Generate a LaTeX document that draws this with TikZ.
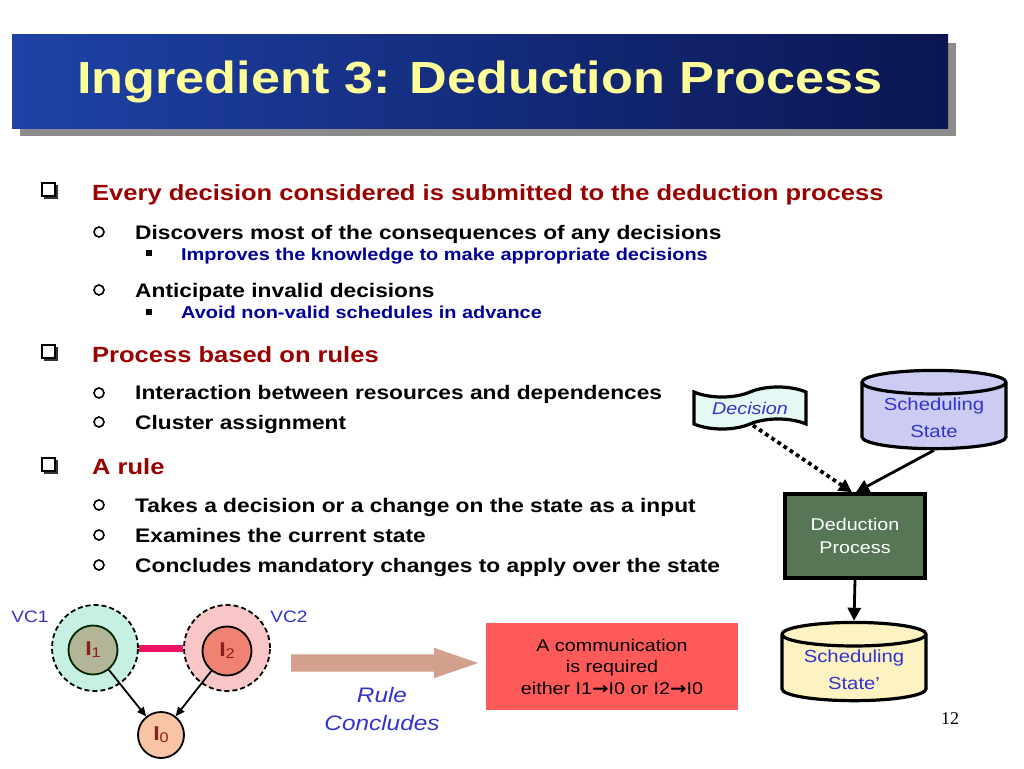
\documentclass[tikz,border=0pt]{standalone}
\usepackage{fontspec}
\setmainfont{Liberation Sans}[FakeStretch=1.16]
\newfontfamily\arrowfont{DejaVu Sans}[FakeStretch=1.16]
\newfontfamily\pagenumfont{Liberation Serif}
\usetikzlibrary{positioning,shapes.geometric,shapes.symbols,shapes.arrows,shadows,arrows.meta}

\definecolor{titleblue}{HTML}{1E42A6}
\definecolor{titlenavy}{HTML}{0A1652}
\definecolor{titleyellow}{HTML}{FFFF99}
\definecolor{headred}{HTML}{990000}
\definecolor{subblue}{HTML}{000099}
\definecolor{labelblue}{HTML}{3333CC}
\definecolor{decisioncyan}{HTML}{E4F8F6}
\definecolor{statelavender}{HTML}{CCCCF2}
\definecolor{stateyellow}{HTML}{FDF2C2}
\definecolor{deductgreen}{HTML}{567656}
\definecolor{vcgreen}{HTML}{C6F0E2}
\definecolor{vcpink}{HTML}{F8C6C6}
\definecolor{taskkhaki}{HTML}{B4B496}
\definecolor{tasksalmon}{HTML}{F08272}
\definecolor{taskpeach}{HTML}{F9C4A6}
\definecolor{taskred}{HTML}{8A1E1E}
\definecolor{linkpink}{HTML}{EE1166}
\definecolor{arrowtan}{HTML}{D2A08C}
\definecolor{notered}{HTML}{FF5A5A}

\newcommand\tasklbl[1]{\textbf{I}\raisebox{-0.2ex}{\fontsize{14}{14}\selectfont #1}}

\tikzset{
  banner/.style={minimum width=936, minimum height=93, inner sep=0,
    left color=titleblue, right color=titlenavy,
    drop shadow={shadow xshift=8pt, shadow yshift=-8pt, fill=black!45, opacity=1},
    text=titleyellow, font=\fontsize{45}{50}\selectfont\bfseries},
  head/.style={anchor=base west, inner sep=0, text=headred,
    font=\fontsize{22}{26}\selectfont\bfseries},
  item/.style={anchor=base west, inner sep=0,
    font=\fontsize{19.6}{24}\selectfont\bfseries},
  subitem/.style={anchor=base west, inner sep=0, text=subblue,
    font=\fontsize{17.2}{20}\selectfont\bfseries},
  tapebox/.style={tape, draw, line width=3.2, fill=decisioncyan,
    minimum width=112, minimum height=42, tape bend height=10,
    text=labelblue, font=\fontsize{17}{20}\selectfont\itshape},
  dbstate/.style={cylinder, shape border rotate=90, aspect=0.22, draw,
    line width=3.2, minimum width=144, inner ysep=2.5, align=center,
    text=labelblue, font=\fontsize{17.5}{27}\selectfont},
  procbox/.style={rectangle, draw, line width=3.6, fill=deductgreen,
    minimum width=140, minimum height=84, align=center,
    text=white, font=\fontsize{17}{23}\selectfont},
  flow/.style={line width=2.8, -{Triangle[length=13, width=13]}},
  cluster/.style={circle, draw, dash pattern=on 5pt off 3pt, line width=1.8,
    minimum size=86, inner sep=0},
  task/.style={circle, draw, line width=1.8, minimum size=49, inner sep=0,
    text=taskred, font=\fontsize{20}{22}\selectfont},
  dep/.style={line width=1.8, -{Triangle[length=9, width=8]}},
  vclabel/.style={text=labelblue, font=\fontsize{16.5}{20}\selectfont},
}

\begin{document}
\begin{tikzpicture}[x=1pt,y=-1pt]
  \useasboundingbox (0,0) rectangle (1024,768);

  % title
  \node[banner] (title) at (480,81.5) {Ingredient 3: Deduction Process};

  % bullet marks
  \foreach \y in {191,353,466} {
    \fill[black!80] (44,\y-6) rectangle +(14,14);
    \draw[fill=white, line width=1.2] (42,\y-8) rectangle +(13,13);
  }
  \foreach \y in {232,290,393,422,505,535,565}
    \draw[line width=1.6] (99,\y) circle [radius=5];
  \foreach \y in {253,312}
    \fill (146,\y-3) rectangle +(6,6);

  % text lines
  \node[head] (h1) at (92,200) {Every decision considered is submitted to the deduction process};
  \node[item] (h1a) at (135,239) {Discovers most of the consequences of any decisions};
  \node[subitem] (h1a1) at (181,260) {Improves the knowledge to make appropriate decisions};
  \node[item] (h1b) at (135,297) {Anticipate invalid decisions};
  \node[subitem] (h1b1) at (181,318) {Avoid non-valid schedules in advance};
  \node[head] (h2) at (92,362) {Process based on rules};
  \node[item] (h2a) at (135,399) {Interaction between resources and dependences};
  \node[item] (h2b) at (135,429) {Cluster assignment};
  \node[head] (h3) at (92,474) {A rule};
  \node[item] (h3a) at (135,512) {Takes a decision or a change on the state as a input};
  \node[item] (h3b) at (135,542) {Examines the current state};
  \node[item] (h3c) at (135,572) {Concludes mandatory changes to apply over the state};

  % deduction flow
  \node[tapebox] (decision) at (750,408) {Decision};
  \node[dbstate, fill=statelavender] (state) at (934,418) {Scheduling\\State};
  \node[procbox] (deduct) at (855,536) {Deduction\\Process};
  \node[dbstate, fill=stateyellow] (newstate) at (854,670) {Scheduling\\State'};
  \draw[flow, line width=3.8, dash pattern=on 3.8pt off 3.6pt]
    ([xshift=3]decision.south) -- ([xshift=-3]deduct.north);
  \draw[flow] (state.south) -- ([xshift=1]deduct.north);
  \draw[flow] (deduct.south) -- (newstate.north);

  % clusters
  \node[cluster, fill=vcgreen] (vc1) at (95,648) {};
  \node[cluster, fill=vcpink] (vc2) at (227,648) {};
  \node[task, fill=taskkhaki, draw=black!85!green] (i1) at (93,650) {\tasklbl{1}};
  \node[task, fill=tasksalmon] (i2) at (227,651) {\tasklbl{2}};
  \node[task, fill=taskpeach, minimum size=46] (i0) at (161,735) {\tasklbl{0}};
  \node[vclabel] (vc1lbl) at (30,617) {VC1};
  \node[vclabel] (vc2lbl) at (289,617) {VC2};
  \draw[linkpink, line width=7] (vc1.east) -- (vc2.west);
  \draw[dep] (i1) -- (i0);
  \draw[dep] (i2) -- (i0);

  % rule result
  \node[single arrow, fill=arrowtan, minimum height=187, inner xsep=0,
    inner ysep=8.5, single arrow head extend=6.5, single arrow tip angle=38]
    (concl) at (372,663) {};
  \node[align=center, text=labelblue, font=\fontsize{21}{28}\selectfont\itshape]
    (rule) at (382,709) {Rule\\Concludes};
  \node[fill=notered, minimum width=252, minimum height=87, align=center,
    font=\fontsize{17}{21.5}\selectfont] (comm) at (612,666.5)
    {A communication\\is required\\either I1{\arrowfont\bfseries →}I0 or I2{\arrowfont\bfseries →}I0};

  \node[font=\pagenumfont\fontsize{18}{20}\selectfont] (pagenum) at (950,719) {12};
\end{tikzpicture}
\end{document}
